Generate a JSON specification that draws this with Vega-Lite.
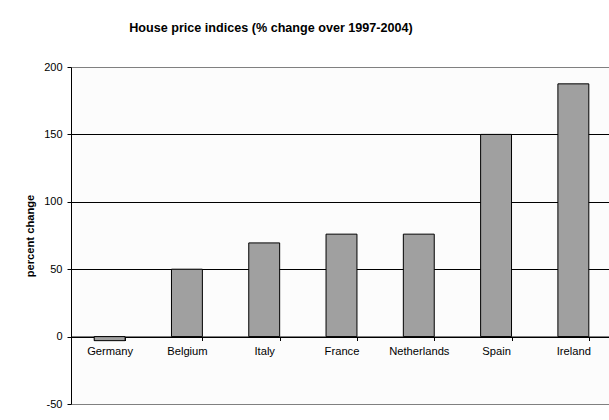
{
  "$schema": "https://vega.github.io/schema/vega-lite/v6.json",
  "autosize": "none",
  "width": 538,
  "height": 337,
  "padding": {"left": 71, "top": 67, "right": 0, "bottom": 16},
  "background": "#ffffff",
  "title": {
    "text": "House price indices (% change over 1997-2004)",
    "font": "Liberation Sans",
    "fontSize": 12.6,
    "fontWeight": "bold",
    "color": "#000000",
    "anchor": "middle",
    "frame": "group",
    "dx": -69,
    "offset": 26
  },
  "data": {
    "values": [
      {"country": "Germany", "change": -3},
      {"country": "Belgium", "change": 50},
      {"country": "Italy", "change": 69.5},
      {"country": "France", "change": 76},
      {"country": "Netherlands", "change": 76},
      {"country": "Spain", "change": 150},
      {"country": "Ireland", "change": 187.5}
    ]
  },
  "mark": {"type": "bar", "fill": "#a0a0a0", "stroke": "#000000", "strokeWidth": 1},
  "encoding": {
    "x": {
      "field": "country",
      "type": "nominal",
      "sort": null,
      "scale": {"paddingInner": 0.6, "paddingOuter": 0.3, "range": [0, 541]},
      "axis": {
        "title": null,
        "orient": "bottom",
        "offset": -67.5,
        "labelAngle": 0,
        "labelFont": "Liberation Sans",
        "labelFontSize": 11.2,
        "labelColor": "#000000",
        "labelPadding": 5,
        "tickBand": "extent",
        "tickSize": 4,
        "tickColor": "#000000",
        "domainColor": "#000000",
        "grid": false
      }
    },
    "y": {
      "field": "change",
      "type": "quantitative",
      "scale": {"domain": [-50, 200], "nice": false, "zero": false},
      "axis": {
        "title": "percent change",
        "titleFont": "Liberation Sans",
        "titleFontSize": 11.2,
        "titleFontWeight": "bold",
        "titleColor": "#000000",
        "titlePadding": 8,
        "values": [-50, 0, 50, 100, 150, 200],
        "labelExpr": "'' + datum.value",
        "labelFont": "Liberation Sans",
        "labelFontSize": 11,
        "labelColor": "#000000",
        "labelPadding": 5,
        "tickSize": 4,
        "tickColor": "#000000",
        "domainColor": "#000000",
        "grid": true,
        "gridColor": {"condition": {"test": "datum.value == 200 || datum.value == -50", "value": "#808080"}, "value": "#000000"},
        "gridOpacity": 1
      }
    }
  },
  "config": {
    "view": {"stroke": null, "fill": "#fcfcfc"}
  }
}
